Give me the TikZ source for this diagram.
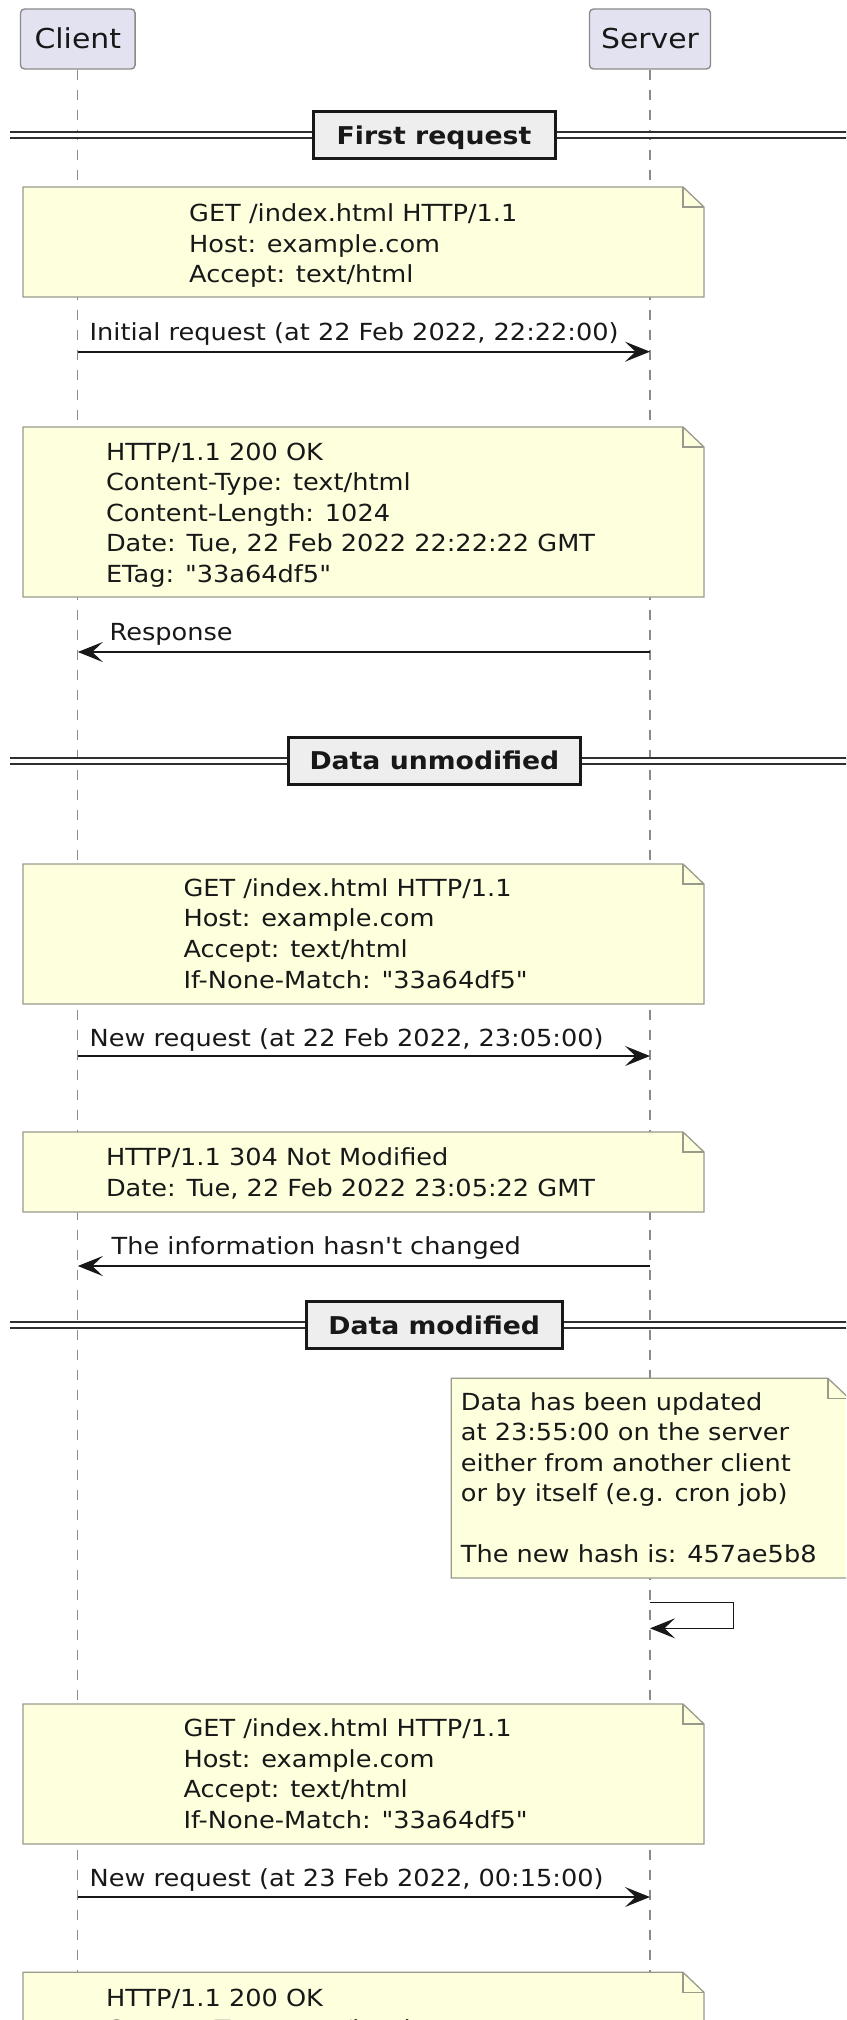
\documentclass[tikz,border=0pt]{standalone}
\usepackage{fontspec}
\usetikzlibrary{arrows.meta}
% DejaVu Sans, slightly widened, without TeX ligatures so quotes stay straight
\newfontfamily\umlfont[FakeStretch=1.09]{DejaVu Sans}

\definecolor{partfill}{HTML}{E2E2F0}
\definecolor{partline}{HTML}{8A8A8A}
\definecolor{notefill}{HTML}{FEFFDD}
\definecolor{noteline}{HTML}{9A9A8C}
\definecolor{divfill}{HTML}{EEEEEE}
\definecolor{ink}{HTML}{181818}
\definecolor{lifegray}{HTML}{8A8A8A}

% a note with a folded top-right corner: x1, y1, x2, y2
\newcommand\umlnote[4]{%
  \filldraw[notebody] (#1,#2) -- ({#3-21},#2) -- (#3,{#2+20}) -- (#3,#4) -- (#1,#4) -- cycle;
  \draw[notebody, fill=none] ({#3-21},#2) -- ({#3-21},{#2+20}) -- (#3,{#2+20});
}

\begin{document}
\begin{tikzpicture}[x=1pt, y=-1pt,
  participant/.style={draw=partline, fill=partfill, line width=1.4pt, rounded corners=4pt,
    inner sep=0pt, minimum height=60pt, text=ink, text height=20pt, text depth=0pt,
    font=\umlfont\fontsize{27.4}{32}\selectfont},
  lifeline/.style={draw=lifegray, line width=1.3pt, dash pattern=on 10pt off 10pt},
  divider/.style={draw=ink, fill=divfill, line width=3pt, inner sep=0pt, minimum height=47pt,
    text=ink, text height=17.6pt, text depth=0pt,
    font=\umlfont\bfseries\fontsize{24.5}{30}\selectfont},
  divline/.style={draw=ink!90, double=white, double distance=4pt, line width=2pt},
  notebody/.style={draw=noteline, fill=notefill, line width=1.3pt, line join=miter},
  txt/.style={anchor=base west, inner sep=0pt, text=ink,
    font=\umlfont\fontsize{23.5}{30.5}\selectfont},
  msg/.style={draw=ink, line width=1.8pt, -{Stealth[length=25pt, width=20pt, inset=10.5pt]}},
]
\useasboundingbox (0,0) rectangle (846,2020);
\clip (0,0) rectangle (846,2020);

% participants and their lifelines
\node[participant, minimum width=114.6pt] (client) at (77.8,39) {Client};
\node[participant, minimum width=121pt] (server) at (650,39) {Server};
\draw[lifeline] (client.south) -- (client.south |- 0,2025);
\draw[lifeline] (server.south) -- (server.south |- 0,2025);

% ---- First request ----
\node[divider, minimum width=242pt] (d1) at (434,135.3) {First request};
\draw[divline] (10,135.3) -- (d1.west);
\draw[divline] (d1.east) -- (860,135.3);

\umlnote{23}{187}{704}{297}
\foreach \t [count=\i from 0] in {GET /index.html HTTP/1.1, Host: example.com, Accept: text/html}
  \node[txt] (n1l\i) at (189,{221.7+30.55*\i}) {\t};

\coordinate (m1a) at (client.south |- 0,351.7);
\coordinate (m1b) at (server.south |- 0,351.7);
\draw[msg] (m1a) -- (m1b);
\node[txt] (m1) at (89.4,340.7) {Initial request (at 22 Feb 2022, 22:22:00)};

\umlnote{23}{427}{704}{597}
\foreach \t [count=\i from 0] in {HTTP/1.1 200 OK, Content-Type: text/html, Content-Length: 1024,
    {Date: Tue, 22 Feb 2022 22:22:22 GMT}, ETag: "33a64df5"}
  \node[txt] (n2l\i) at (105.8,{460+30.55*\i}) {\t};

\coordinate (m2a) at (server.south |- 0,652);
\coordinate (m2b) at (client.south |- 0,652);
\draw[msg] (m2a) -- (m2b);
\node[txt] (m2) at (109.4,640.7) {Response};

% ---- Data unmodified ----
\node[divider, minimum width=291.4pt] (d2) at (434.4,760.5) {Data unmodified};
\draw[divline] (10,760.5) -- (d2.west);
\draw[divline] (d2.east) -- (860,760.5);

\umlnote{23}{864}{704}{1004}
\foreach \t [count=\i from 0] in {GET /index.html HTTP/1.1, Host: example.com, Accept: text/html,
    If-None-Match: "33a64df5"}
  \node[txt] (n3l\i) at (183.3,{896+30.7*\i}) {\t};

\coordinate (m3a) at (client.south |- 0,1056);
\coordinate (m3b) at (server.south |- 0,1056);
\draw[msg] (m3a) -- (m3b);
\node[txt] (m3) at (89.4,1046) {New request (at 22 Feb 2022, 23:05:00)};

\umlnote{23}{1132}{704}{1212}
\foreach \t [count=\i from 0] in {HTTP/1.1 304 Not Modified, {Date: Tue, 22 Feb 2022 23:05:22 GMT}}
  \node[txt] (n4l\i) at (105.8,{1165.7+30.8*\i}) {\t};

\coordinate (m4a) at (server.south |- 0,1266);
\coordinate (m4b) at (client.south |- 0,1266);
\draw[msg] (m4a) -- (m4b);
\node[txt] (m4) at (111.5,1254.3) {The information hasn't changed};

% ---- Data modified ----
\node[divider, minimum width=256.3pt] (d3) at (434.2,1325.3) {Data modified};
\draw[divline] (10,1325.3) -- (d3.west);
\draw[divline] (d3.east) -- (860,1325.3);

\umlnote{451.2}{1378.3}{849}{1578}
\foreach \t [count=\i from 0] in {Data has been updated, at 23:55:00 on the server,
    either from another client, or by itself (e.g. cron job)}
  \node[txt] (n5l\i) at (460.7,{1410+30.55*\i}) {\t};
\node[txt] (n5l5) at (460.7,1562.5) {The new hash is: 457ae5b8};

% the server updates its own data
\coordinate (selfa) at (server.south |- 0,1602.3);
\coordinate (selfb) at (server.south |- 0,1628.3);
\draw[msg, line width=1.6pt] (selfa) -- (733.3,1602.3) -- (733.3,1628.3) -- (selfb);

\umlnote{23}{1704}{704}{1844}
\foreach \t [count=\i from 0] in {GET /index.html HTTP/1.1, Host: example.com, Accept: text/html,
    If-None-Match: "33a64df5"}
  \node[txt] (n6l\i) at (183.3,{1736.7+30.6*\i}) {\t};

\coordinate (m6a) at (client.south |- 0,1897);
\coordinate (m6b) at (server.south |- 0,1897);
\draw[msg] (m6a) -- (m6b);
\node[txt] (m6) at (89.4,1886.7) {New request (at 23 Feb 2022, 00:15:00)};

\umlnote{23}{1972.3}{704}{2120}
\foreach \t [count=\i from 0] in {HTTP/1.1 200 OK, Content-Type: text/html}
  \node[txt] (n7l\i) at (105.8,{2006.7+30.55*\i}) {\t};
\end{tikzpicture}
\end{document}
